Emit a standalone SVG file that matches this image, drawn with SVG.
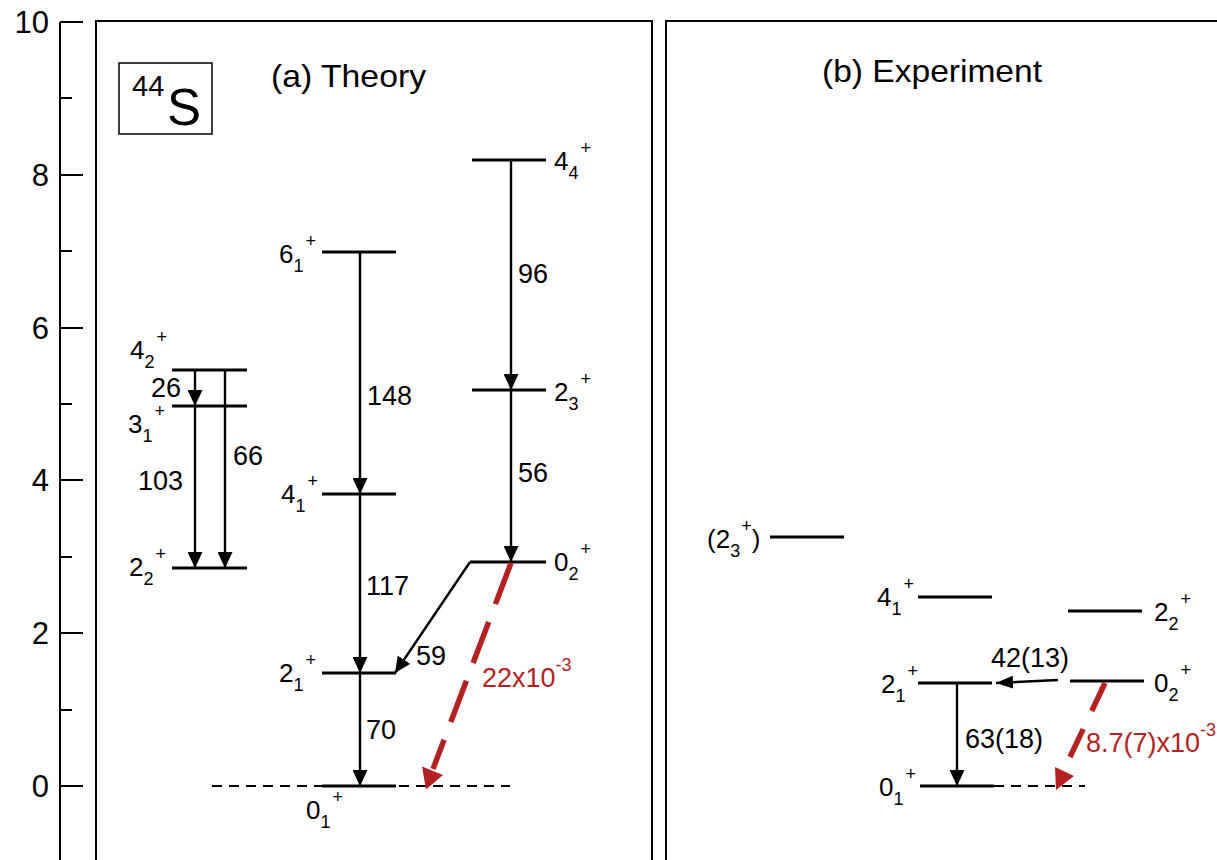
<svg xmlns="http://www.w3.org/2000/svg" width="1217" height="860" viewBox="0 0 1217 860">
<style>
text{font-family:"Liberation Sans",Arial,Helvetica,sans-serif;fill:#000}
.ax{font-size:31px;text-anchor:end}
.lv{font-size:26px}
.n{font-size:27px}
.sb,.sp{font-size:18px}
.r{fill:#b22222}
.frame{fill:none;stroke:#000;stroke-width:2}
.lvl{stroke:#000;stroke-width:3}
.arr{stroke:#000;stroke-width:2.4;fill:none;marker-end:url(#ah)}
.dash{stroke:#000;stroke-width:2;stroke-dasharray:10 7}
.red{stroke:#b22222;stroke-width:5.5;fill:none}
</style>
<defs>
<marker id="ah" markerUnits="userSpaceOnUse" markerWidth="16" markerHeight="15" viewBox="0 0 16 15" refX="16" refY="7.5" orient="auto">
<path d="M0,0 L16,7.5 L0,15 z" fill="#000"/>
</marker>
<marker id="ahs" markerUnits="userSpaceOnUse" markerWidth="17" markerHeight="13" viewBox="0 0 17 13" refX="17" refY="6.5" orient="auto">
<path d="M0,0 L17,6.5 L0,13 z" fill="#000"/>
</marker>
</defs>
<rect width="1217" height="860" fill="#fff"/>

<g id="axis">
<line x1="60" y1="22" x2="60" y2="860" stroke="#000" stroke-width="2"/>
<g stroke="#000" stroke-width="2">
<line x1="60" y1="22" x2="83" y2="22"/><line x1="60" y1="175" x2="83" y2="175"/><line x1="60" y1="328" x2="83" y2="328"/><line x1="60" y1="480" x2="83" y2="480"/><line x1="60" y1="633" x2="83" y2="633"/><line x1="60" y1="786" x2="83" y2="786"/>
<line x1="60" y1="98" x2="72" y2="98"/><line x1="60" y1="251" x2="72" y2="251"/><line x1="60" y1="404" x2="72" y2="404"/><line x1="60" y1="557" x2="72" y2="557"/><line x1="60" y1="710" x2="72" y2="710"/>
</g>
<text class="ax" x="49" y="33">10</text>
<text class="ax" x="49" y="186">8</text>
<text class="ax" x="49" y="339">6</text>
<text class="ax" x="49" y="491">4</text>
<text class="ax" x="49" y="644">2</text>
<text class="ax" x="49" y="797">0</text>
</g>

<g id="panel-a">
<path class="frame" d="M96,862 V21 H652 V862"/>
<rect x="119" y="63" width="93" height="71" fill="none" stroke="#000" stroke-width="1.5"/>
<text x="132" y="96" style="font-size:29px">44</text>
<text x="167" y="125" style="font-size:51px">S</text>
<text x="271" y="87" style="font-size:32px" textLength="155" lengthAdjust="spacingAndGlyphs">(a) Theory</text>
</g>

<g id="panel-b">
<path class="frame" d="M666,862 V21 H1220"/>
<text x="822" y="82" style="font-size:32px" textLength="220" lengthAdjust="spacingAndGlyphs">(b) Experiment</text>
</g>

<g id="levels-a">
<g id="l42"><line class="lvl" x1="172" y1="370" x2="247" y2="370"/><text class="lv" x="130" y="359">4<tspan class="sb" dy="9">2</tspan><tspan class="sp" dx="2" dy="-25">+</tspan></text></g>
<g id="l31"><line class="lvl" x1="172" y1="406" x2="247" y2="406"/><text class="lv" x="128" y="433">3<tspan class="sb" dy="9">1</tspan><tspan class="sp" dx="2" dy="-25">+</tspan></text></g>
<g id="l22"><line class="lvl" x1="172" y1="568" x2="247" y2="568"/><text class="lv" x="129" y="576">2<tspan class="sb" dy="9">2</tspan><tspan class="sp" dx="2" dy="-25">+</tspan></text></g>
<g id="l61"><line class="lvl" x1="322" y1="252" x2="396" y2="252"/><text class="lv" x="279" y="263">6<tspan class="sb" dy="9">1</tspan><tspan class="sp" dx="2" dy="-25">+</tspan></text></g>
<g id="l41"><line class="lvl" x1="322" y1="494" x2="396" y2="494"/><text class="lv" x="281" y="503">4<tspan class="sb" dy="9">1</tspan><tspan class="sp" dx="2" dy="-25">+</tspan></text></g>
<g id="l21"><line class="lvl" x1="322" y1="673" x2="396" y2="673"/><text class="lv" x="279" y="682">2<tspan class="sb" dy="9">1</tspan><tspan class="sp" dx="2" dy="-25">+</tspan></text></g>
<g id="l01"><line class="dash" x1="212" y1="786" x2="510" y2="786"/><line class="lvl" x1="322" y1="786" x2="396" y2="786"/><text class="lv" x="306" y="819">0<tspan class="sb" dy="9">1</tspan><tspan class="sp" dx="2" dy="-25">+</tspan></text></g>
<g id="l44"><line class="lvl" x1="472" y1="160" x2="546" y2="160"/><text class="lv" x="554" y="170">4<tspan class="sb" dy="9">4</tspan><tspan class="sp" dx="2" dy="-25">+</tspan></text></g>
<g id="l23"><line class="lvl" x1="472" y1="390" x2="546" y2="390"/><text class="lv" x="554" y="401">2<tspan class="sb" dy="9">3</tspan><tspan class="sp" dx="2" dy="-25">+</tspan></text></g>
<g id="l02"><line class="lvl" x1="470" y1="562" x2="546" y2="562"/><text class="lv" x="554" y="571">0<tspan class="sb" dy="9">2</tspan><tspan class="sp" dx="2" dy="-25">+</tspan></text></g>
</g>

<g id="levels-b">
<g id="e23"><line class="lvl" x1="770" y1="537" x2="844" y2="537"/><text class="lv" x="707" y="548">(2<tspan class="sb" dy="9">3</tspan><tspan class="sp" dx="1" dy="-25">+</tspan><tspan dy="16">)</tspan></text></g>
<g id="e41"><line class="lvl" x1="918" y1="597" x2="992" y2="597"/><text class="lv" x="877" y="606">4<tspan class="sb" dy="9">1</tspan><tspan class="sp" dx="2" dy="-25">+</tspan></text></g>
<g id="e22"><line class="lvl" x1="1068" y1="611" x2="1142" y2="611"/><text class="lv" x="1154" y="621">2<tspan class="sb" dy="9">2</tspan><tspan class="sp" dx="2" dy="-25">+</tspan></text></g>
<g id="e21"><line class="lvl" x1="918" y1="683" x2="992" y2="683"/><text class="lv" x="881" y="693">2<tspan class="sb" dy="9">1</tspan><tspan class="sp" dx="2" dy="-25">+</tspan></text></g>
<g id="e02"><line class="lvl" x1="1070" y1="681" x2="1144" y2="681"/><text class="lv" x="1154" y="692">0<tspan class="sb" dy="9">2</tspan><tspan class="sp" dx="2" dy="-25">+</tspan></text></g>
<g id="e01"><line class="dash" x1="994" y1="786" x2="1085" y2="786"/><line class="lvl" x1="920" y1="786" x2="994" y2="786"/><text class="lv" x="879" y="796">0<tspan class="sb" dy="9">1</tspan><tspan class="sp" dx="2" dy="-25">+</tspan></text></g>
</g>

<g id="connectors">
<line class="arr" x1="195" y1="370" x2="195" y2="406"/>
<line class="arr" x1="195" y1="406" x2="195" y2="568"/>
<line class="arr" x1="225" y1="370" x2="225" y2="568"/>
<line class="arr" x1="360" y1="252" x2="360" y2="494"/>
<line class="arr" x1="360" y1="494" x2="360" y2="673"/>
<line class="arr" x1="360" y1="673" x2="360" y2="786"/>
<line class="arr" x1="511" y1="160" x2="511" y2="390"/>
<line class="arr" x1="511" y1="390" x2="511" y2="562"/>
<line class="arr" x1="470" y1="562" x2="395" y2="673"/>
<line class="red" x1="511" y1="563" x2="433" y2="769" stroke-dasharray="44 19"/>
<polygon points="426,789.5 422,766.5 443,775" fill="#b22222"/>
<line class="arr" x1="1058" y1="680" x2="996" y2="683" style="marker-end:url(#ahs)"/>
<line class="arr" x1="957" y1="683" x2="957" y2="786"/>
<line class="red" x1="1105" y1="683" x2="1070" y2="757" stroke-dasharray="31 20"/>
<polygon points="1055,767 1074,776 1056,790" fill="#b22222"/>
</g>

<g id="labels">
<text class="n" x="151" y="397">26</text>
<text class="n" x="138" y="490">103</text>
<text class="n" x="233" y="465">66</text>
<text class="n" x="367" y="405">148</text>
<text class="n" x="366" y="595">117</text>
<text class="n" x="366" y="739">70</text>
<text class="n" x="518" y="283">96</text>
<text class="n" x="518" y="482">56</text>
<text class="n" x="416" y="665">59</text>
<text class="n r" x="482" y="687">22x10<tspan class="sp r" dy="-16">-3</tspan></text>
<text class="n" x="991" y="667">42(13)</text>
<text class="n" x="965" y="748">63(18)</text>
<text class="n r" x="1086" y="752">8.7(7)x10<tspan class="sp r" dy="-16">-3</tspan></text>
</g>
</svg>
